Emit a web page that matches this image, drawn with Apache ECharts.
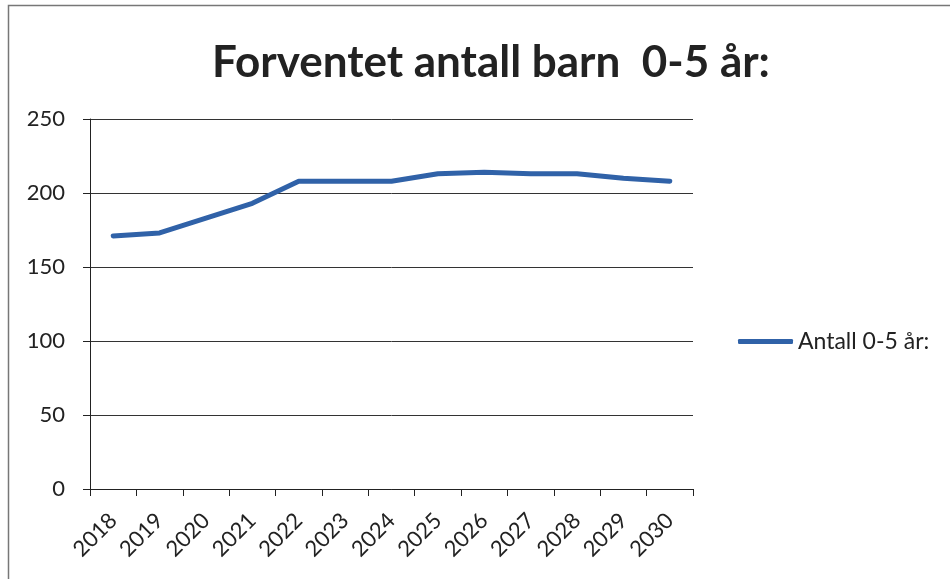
<!DOCTYPE html>
<html><head><meta charset="utf-8">
<script src="https://cdn.jsdelivr.net/npm/echarts@6/dist/echarts.min.js"></script>
<style>html,body{margin:0;padding:0;background:#fff}#c{width:950px;height:579px}</style>
</head><body><div id="c"></div>
<script>
const title = 'Forventet antall barn  0-5 år:';
const seriesName = 'Antall 0-5 år:';
const years = ['2018','2019','2020','2021','2022','2023','2024','2025','2026','2027','2028','2029','2030'];
const values = [171, 173, 183, 193, 208, 208, 208, 213, 214, 213, 213, 210, 208];
const yTicks = [0, 50, 100, 150, 200, 250];

const chart = echarts.init(document.getElementById('c'));
chart.setOption({
  animation: false,
  backgroundColor: '#fff',
  graphic: [{type:'rect', shape:{x:8.5,y:5.5,width:945,height:578}, style:{fill:'none', stroke:'#777', lineWidth:1.5}, silent:true}],
  title: {text: title, left: 486, top: 36, textAlign: 'center',
    textStyle: {fontFamily: 'Lato', fontWeight: 'bold', fontSize: 44, color: '#222'}},
  legend: {data:[seriesName], left: 733, top: 325, itemWidth: 55, itemHeight: 5, itemGap: 4,
    icon: 'roundRect',
    textStyle: {fontFamily: 'Lato', fontSize: 23, color: '#222'}},
  grid: {left: 90, right: 257, top: 119, bottom: 90, containLabel: false},
  xAxis: {type:'category', data: years, boundaryGap: true,
    axisLine: {lineStyle: {color:'#222', width:1}},
    axisTick: {show: true, alignWithLabel: false, length: 7, lineStyle: {color:'#222'}},
    axisLabel: {rotate: 45, fontFamily: 'Lato', fontSize: 22, color: '#222', margin: 28, interval: 0},
    splitLine: {show:false}},
  yAxis: {type:'value', min: yTicks[0], max: yTicks[yTicks.length-1], interval: 50,
    axisLine: {show: true, lineStyle:{color:'#222'}},
    axisTick:{show:true, length: 7, lineStyle:{color:'#222'}},
    axisLabel: {fontFamily: 'Lato', fontSize: 22, color: '#222', margin: 25},
    splitLine: {lineStyle: {color:'#333', width:1}}},
  series: [{name: seriesName, type:'line', data: values, symbol:'none',
    lineStyle: {color:'#3062A8', width: 5, cap:'round', join:'round'},
    itemStyle: {color:'#3062A8'}}]
});
</script></body></html>
